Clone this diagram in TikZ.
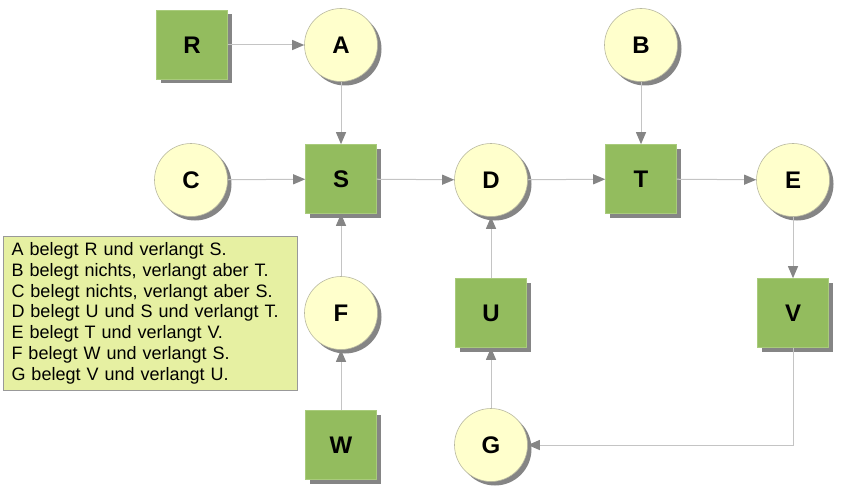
\documentclass[tikz,border=0pt]{standalone}
\usepackage{fontspec}
\setmainfont{Liberation Sans}
\usetikzlibrary{arrows.meta,shadows}
\definecolor{boxgreen}{HTML}{93BC5E}
\definecolor{boxedge}{HTML}{A9CB7C}
\definecolor{circfill}{HTML}{FFFFCC}
\definecolor{circedge}{HTML}{B8B8A0}
\definecolor{shadowgray}{HTML}{858585}
\definecolor{linegray}{HTML}{C4C4C4}
\definecolor{tipgray}{HTML}{858585}
\definecolor{legendfill}{HTML}{E6F0A2}
\begin{document}
\begin{tikzpicture}[x=1pt,y=-1pt,
  shadowed/.style={drop shadow={shadow xshift=4pt,shadow yshift=-4pt,fill=shadowgray,opacity=1}},
  res/.style={rectangle,minimum width=71pt,minimum height=69pt,fill=boxgreen,draw=boxedge,line width=0.6pt,shadowed,font=\fontsize{24}{24}\selectfont\bfseries,inner sep=0pt},
  proc/.style={circle,minimum size=73pt,fill=circfill,draw=circedge,line width=0.6pt,shadowed,font=\fontsize{24}{24}\selectfont\bfseries,inner sep=0pt},
  conn/.style={draw=linegray,line width=1pt,-{Triangle[length=12pt,width=10pt,color=tipgray]}},
  legend/.style={rectangle,fill=legendfill,draw=gray!80,line width=1pt,align=left,anchor=north west,text width=278pt,inner xsep=8pt,inner ysep=6pt,font=\fontsize{18}{20.8}\selectfont}
]
\useasboundingbox (0,0) rectangle (850,492);
\node[res]  (R) at (192,45) {R};
\node[proc] (A) at (341,45) {A};
\node[proc] (B) at (641,45) {B};
\node[proc] (C) at (191,180) {C};
\node[res]  (S) at (341,179) {S};
\node[proc] (D) at (491,180) {D};
\node[res]  (T) at (641,179) {T};
\node[proc] (E) at (793,180) {E};
\node[proc] (F) at (341,313) {F};
\node[res]  (U) at (491,313) {U};
\node[res]  (V) at (793,313) {V};
\node[res]  (W) at (341,445) {W};
\node[proc] (G) at (491,445) {G};
\coordinate (VG) at (793,445);

\draw[conn] (R) -- (A);
\draw[conn] (A) -- (S);
\draw[conn] (C) -- (S);
\draw[conn] (S) -- (D);
\draw[conn] (D) -- (T);
\draw[conn] (B) -- (T);
\draw[conn] (T) -- (E);
\draw[conn] (E) -- (V);
\draw[conn] (F) -- (S);
\draw[conn] (W) -- (F);
\draw[conn] (U) -- (D);
\draw[conn] (G) -- (U);
\draw[conn] (V.south) -- (VG) -- (G);

\node[legend] (L) at (3,236) {A belegt R und verlangt S.\\
B belegt nichts, verlangt aber T.\\
C belegt nichts, verlangt aber S.\\
D belegt U und S und verlangt T.\\
E belegt T und verlangt V.\\
F belegt W und verlangt S.\\
G belegt V und verlangt U.};
\end{tikzpicture}
\end{document}
